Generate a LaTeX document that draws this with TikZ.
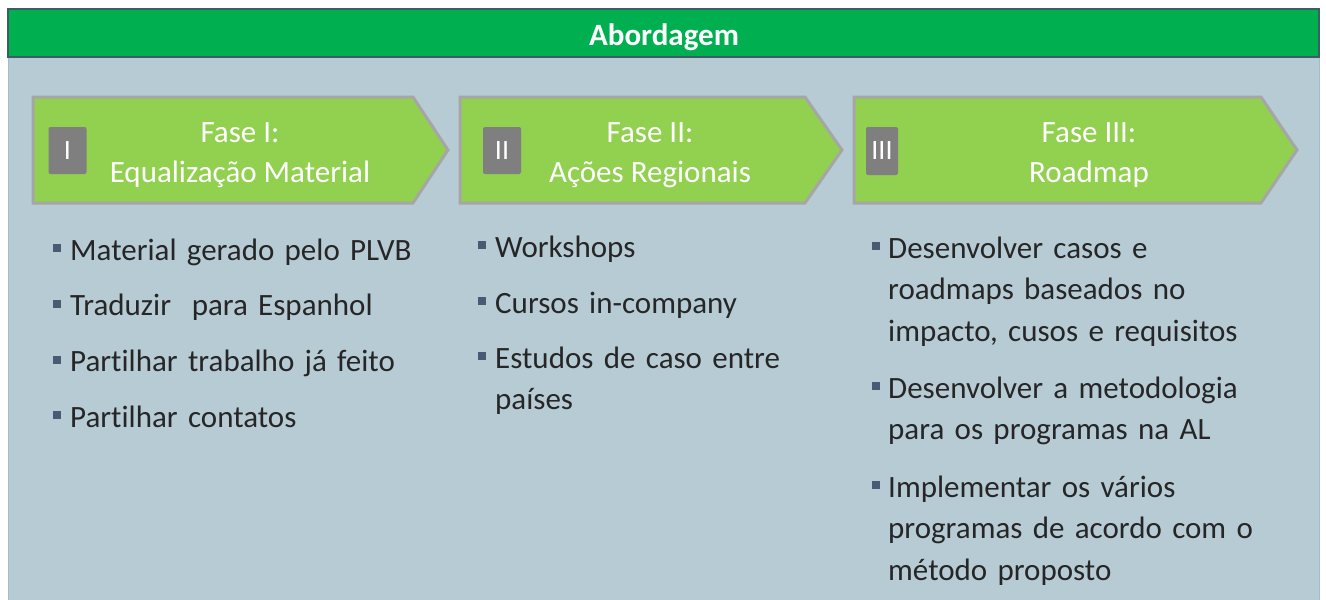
\documentclass[tikz,border=0pt]{standalone}
\usepackage{fontspec}
\setmainfont{Carlito}[Ligatures={NoCommon}]
\definecolor{panelc}{HTML}{B7CBD5}
\definecolor{paneledge}{HTML}{A8BBC6}
\definecolor{hdrgreen}{HTML}{00B050}
\definecolor{hdredge}{HTML}{3E5C66}
\definecolor{arrowfill}{HTML}{92D050}
\definecolor{arrowedge}{HTML}{A6A6A6}
\definecolor{numgray}{HTML}{7F7F7F}
\definecolor{bodytext}{HTML}{262626}
\definecolor{bulletc}{HTML}{4A5A73}
\begin{document}
\begin{tikzpicture}[x=1pt,y=-1pt,
  hdrtext/.style={text=white, font=\fontsize{31}{36}\selectfont\bfseries, inner sep=0, anchor=base},
  phase/.style={fill=arrowfill, draw=arrowedge, line width=3, line join=miter},
  phasetitle/.style={text=white, font=\fontsize{31}{40}\selectfont, align=center, inner sep=0, anchor=base},
  numbox/.style={fill=numgray, rounded corners=2, text=white, font=\fontsize{28}{30}\selectfont, inner sep=0},
  item/.style={text=bodytext, font=\fontsize{31}{41.5}\selectfont, align=left, inner sep=0, anchor=base west, text width=#1},
  item/.default=400,
  bulletsq/.style={fill=bulletc}
]
\useasboundingbox (0,0) rectangle (1326,600);
\fill[white] (0,0) rectangle (1326,600);
% panel
\filldraw[fill=panelc, draw=paneledge, line width=1] (8,57) rectangle (1319,602);
% header
\filldraw[fill=hdrgreen, draw=hdredge, line width=1.5] (8,9) rectangle (1319,57);
\node[hdrtext] (abord) at (664,45) {Abordagem};

% phase arrows
\draw[phase] (33,97) -- (413,97) -- (448,150) -- (413,203) -- (33,203) -- cycle;
\draw[phase] (460,97) -- (805,97) -- (842,150) -- (805,203) -- (460,203) -- cycle;
\draw[phase] (854,97) -- (1261,97) -- (1297,150) -- (1261,203) -- (854,203) -- cycle;

\node[numbox, minimum width=38, minimum height=47] (n1) at (67.5,150.5) {I};
\node[numbox, minimum width=38, minimum height=47] (n2) at (502,150.5) {II};
\node[numbox, minimum width=32, minimum height=48] (n3) at (882,151) {III};

% multi-line title: base anchor is the last line
\node[phasetitle] (t1) at (240,182) {Fase I:\\Equalização Material};
\node[phasetitle] (t2) at (650,182) {Fase II:\\Ações Regionais};
\node[phasetitle] (t3) at (1089,182) {Fase III:\\Roadmap};

% column 1
\node[item] (a1) at (70,260) {Material gerado pelo PLVB};
\node[item] (a2) at (70,315.5) {Traduzir\ \ para Espanhol};
\node[item] (a3) at (70,371.5) {Partilhar trabalho já feito};
\node[item] (a4) at (70,427) {Partilhar contatos};
\foreach \n in {a1,a2,a3,a4}
  \fill[bulletsq] ([xshift=-17,yshift=16]\n.base west) rectangle ++(8,8);

% column 2
\node[item] (b1) at (495,257) {Workshops};
\node[item] (b2) at (495,313) {Cursos in-company};
\node[item] (b3) at (495,368) {Estudos de caso entre\\países};
\foreach \n in {b1,b2,b3}
  \fill[bulletsq] ([xshift=-17,yshift=16]\n.base west) rectangle ++(8,8);

% column 3
\node[item=420] (c1) at (888,258) {Desenvolver casos e\\roadmaps baseados no\\impacto, cusos e requisitos};
\node[item=420] (c2) at (888,398) {Desenvolver a metodologia\\para os programas na AL};
\node[item=420] (c3) at (888,497) {Implementar os vários\\programas de acordo com o\\método proposto};
\foreach \n in {c1,c2,c3}
  \fill[bulletsq] ([xshift=-16,yshift=16]\n.base west) rectangle ++(8,8);
\end{tikzpicture}
\end{document}
